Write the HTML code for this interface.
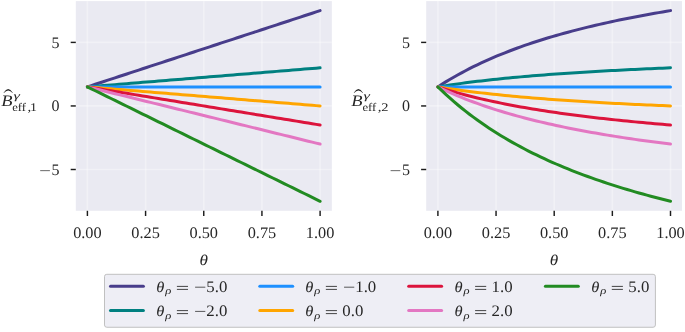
<!DOCTYPE html>
<html><head><meta charset="utf-8"><title>chart</title>
<style>
html,body{margin:0;padding:0;background:#fff;}
body{width:685px;height:332px;overflow:hidden;position:relative;font-family:"Liberation Serif",serif;}
svg text{font-family:"Liberation Serif",serif;fill:#262626;text-rendering:geometricPrecision;}
.t{font-size:16px;}
.i{font-size:16px;font-style:italic;}
</style></head><body>
<svg width="685" height="332" viewBox="0 0 685 332" style="position:absolute;left:0;top:0;will-change:transform">
<rect x="0" y="0" width="685" height="332" fill="#fff"/>
<rect x="75.8" y="1.1" width="256.05" height="209.70" fill="#eaeaf2"/>
<line x1="87.40" x2="87.40" y1="1.1" y2="210.8" stroke="#fff" stroke-width="1.7" stroke-opacity="0.32"/>
<line x1="87.40" x2="87.40" y1="210.8" y2="216.0" stroke="#1c1c1c" stroke-width="1.45"/>
<line x1="145.58" x2="145.58" y1="1.1" y2="210.8" stroke="#fff" stroke-width="1.7" stroke-opacity="0.32"/>
<line x1="145.58" x2="145.58" y1="210.8" y2="216.0" stroke="#1c1c1c" stroke-width="1.45"/>
<line x1="203.75" x2="203.75" y1="1.1" y2="210.8" stroke="#fff" stroke-width="1.7" stroke-opacity="0.32"/>
<line x1="203.75" x2="203.75" y1="210.8" y2="216.0" stroke="#1c1c1c" stroke-width="1.45"/>
<line x1="261.93" x2="261.93" y1="1.1" y2="210.8" stroke="#fff" stroke-width="1.7" stroke-opacity="0.32"/>
<line x1="261.93" x2="261.93" y1="210.8" y2="216.0" stroke="#1c1c1c" stroke-width="1.45"/>
<line x1="320.10" x2="320.10" y1="1.1" y2="210.8" stroke="#fff" stroke-width="1.7" stroke-opacity="0.32"/>
<line x1="320.10" x2="320.10" y1="210.8" y2="216.0" stroke="#1c1c1c" stroke-width="1.45"/>
<line x1="75.8" x2="331.85" y1="169.50" y2="169.50" stroke="#fff" stroke-width="1.7" stroke-opacity="0.32"/>
<line x1="70.7" x2="75.8" y1="169.50" y2="169.50" stroke="#1c1c1c" stroke-width="1.45"/>
<line x1="75.8" x2="331.85" y1="105.95" y2="105.95" stroke="#fff" stroke-width="1.7" stroke-opacity="0.32"/>
<line x1="70.7" x2="75.8" y1="105.95" y2="105.95" stroke="#1c1c1c" stroke-width="1.45"/>
<line x1="75.8" x2="331.85" y1="42.40" y2="42.40" stroke="#fff" stroke-width="1.7" stroke-opacity="0.32"/>
<line x1="70.7" x2="75.8" y1="42.40" y2="42.40" stroke="#1c1c1c" stroke-width="1.45"/>
<polyline points="87.40,86.89 91.34,85.59 95.29,84.30 99.23,83.01 103.18,81.71 107.12,80.42 111.06,79.13 115.01,77.84 118.95,76.54 122.90,75.25 126.84,73.96 130.78,72.67 134.73,71.37 138.67,70.08 142.62,68.79 146.56,67.50 150.51,66.20 154.45,64.91 158.39,63.62 162.34,62.33 166.28,61.03 170.23,59.74 174.17,58.45 178.11,57.16 182.06,55.86 186.00,54.57 189.95,53.28 193.89,51.99 197.83,50.69 201.78,49.40 205.72,48.11 209.67,46.82 213.61,45.52 217.55,44.23 221.50,42.94 225.44,41.65 229.39,40.35 233.33,39.06 237.27,37.77 241.22,36.48 245.16,35.18 249.11,33.89 253.05,32.60 256.99,31.31 260.94,30.01 264.88,28.72 268.83,27.43 272.77,26.14 276.72,24.84 280.66,23.55 284.60,22.26 288.55,20.97 292.49,19.67 296.44,18.38 300.38,17.09 304.32,15.80 308.27,14.50 312.21,13.21 316.16,11.92 320.10,10.62" fill="none" stroke="#483d8b" stroke-width="3.0" stroke-linecap="round" stroke-linejoin="round"/>
<polyline points="87.40,86.89 91.34,86.56 95.29,86.24 99.23,85.92 103.18,85.59 107.12,85.27 111.06,84.95 115.01,84.62 118.95,84.30 122.90,83.98 126.84,83.65 130.78,83.33 134.73,83.01 138.67,82.68 142.62,82.36 146.56,82.04 150.51,81.71 154.45,81.39 158.39,81.07 162.34,80.75 166.28,80.42 170.23,80.10 174.17,79.78 178.11,79.45 182.06,79.13 186.00,78.81 189.95,78.48 193.89,78.16 197.83,77.84 201.78,77.51 205.72,77.19 209.67,76.87 213.61,76.54 217.55,76.22 221.50,75.90 225.44,75.58 229.39,75.25 233.33,74.93 237.27,74.61 241.22,74.28 245.16,73.96 249.11,73.64 253.05,73.31 256.99,72.99 260.94,72.67 264.88,72.34 268.83,72.02 272.77,71.70 276.72,71.37 280.66,71.05 284.60,70.73 288.55,70.41 292.49,70.08 296.44,69.76 300.38,69.44 304.32,69.11 308.27,68.79 312.21,68.47 316.16,68.14 320.10,67.82" fill="none" stroke="#008080" stroke-width="3.0" stroke-linecap="round" stroke-linejoin="round"/>
<polyline points="87.40,86.89 91.34,86.89 95.29,86.89 99.23,86.89 103.18,86.89 107.12,86.89 111.06,86.89 115.01,86.89 118.95,86.89 122.90,86.89 126.84,86.89 130.78,86.89 134.73,86.89 138.67,86.89 142.62,86.89 146.56,86.89 150.51,86.88 154.45,86.89 158.39,86.89 162.34,86.89 166.28,86.89 170.23,86.89 174.17,86.89 178.11,86.89 182.06,86.89 186.00,86.89 189.95,86.89 193.89,86.89 197.83,86.89 201.78,86.89 205.72,86.89 209.67,86.89 213.61,86.89 217.55,86.89 221.50,86.89 225.44,86.89 229.39,86.89 233.33,86.89 237.27,86.89 241.22,86.89 245.16,86.89 249.11,86.89 253.05,86.89 256.99,86.89 260.94,86.89 264.88,86.89 268.83,86.89 272.77,86.89 276.72,86.89 280.66,86.89 284.60,86.89 288.55,86.89 292.49,86.89 296.44,86.89 300.38,86.89 304.32,86.89 308.27,86.89 312.21,86.89 316.16,86.89 320.10,86.89" fill="none" stroke="#1e90ff" stroke-width="3.0" stroke-linecap="round" stroke-linejoin="round"/>
<polyline points="87.40,86.89 91.34,87.21 95.29,87.53 99.23,87.85 103.18,88.18 107.12,88.50 111.06,88.82 115.01,89.15 118.95,89.47 122.90,89.79 126.84,90.12 130.78,90.44 134.73,90.76 138.67,91.09 142.62,91.41 146.56,91.73 150.51,92.06 154.45,92.38 158.39,92.70 162.34,93.02 166.28,93.35 170.23,93.67 174.17,93.99 178.11,94.32 182.06,94.64 186.00,94.96 189.95,95.29 193.89,95.61 197.83,95.93 201.78,96.26 205.72,96.58 209.67,96.90 213.61,97.23 217.55,97.55 221.50,97.87 225.44,98.19 229.39,98.52 233.33,98.84 237.27,99.16 241.22,99.49 245.16,99.81 249.11,100.13 253.05,100.46 256.99,100.78 260.94,101.10 264.88,101.43 268.83,101.75 272.77,102.07 276.72,102.40 280.66,102.72 284.60,103.04 288.55,103.36 292.49,103.69 296.44,104.01 300.38,104.33 304.32,104.66 308.27,104.98 312.21,105.30 316.16,105.63 320.10,105.95" fill="none" stroke="#ffa500" stroke-width="3.0" stroke-linecap="round" stroke-linejoin="round"/>
<polyline points="87.40,86.89 91.34,87.53 95.29,88.18 99.23,88.82 103.18,89.47 107.12,90.12 111.06,90.76 115.01,91.41 118.95,92.06 122.90,92.70 126.84,93.35 130.78,93.99 134.73,94.64 138.67,95.29 142.62,95.93 146.56,96.58 150.51,97.23 154.45,97.87 158.39,98.52 162.34,99.16 166.28,99.81 170.23,100.46 174.17,101.10 178.11,101.75 182.06,102.40 186.00,103.04 189.95,103.69 193.89,104.33 197.83,104.98 201.78,105.63 205.72,106.27 209.67,106.92 213.61,107.57 217.55,108.21 221.50,108.86 225.44,109.50 229.39,110.15 233.33,110.80 237.27,111.44 241.22,112.09 245.16,112.74 249.11,113.38 253.05,114.03 256.99,114.67 260.94,115.32 264.88,115.97 268.83,116.61 272.77,117.26 276.72,117.91 280.66,118.55 284.60,119.20 288.55,119.84 292.49,120.49 296.44,121.14 300.38,121.78 304.32,122.43 308.27,123.08 312.21,123.72 316.16,124.37 320.10,125.02" fill="none" stroke="#dc143c" stroke-width="3.0" stroke-linecap="round" stroke-linejoin="round"/>
<polyline points="87.40,86.89 91.34,87.85 95.29,88.82 99.23,89.79 103.18,90.76 107.12,91.73 111.06,92.70 115.01,93.67 118.95,94.64 122.90,95.61 126.84,96.58 130.78,97.55 134.73,98.52 138.67,99.49 142.62,100.46 146.56,101.43 150.51,102.40 154.45,103.36 158.39,104.33 162.34,105.30 166.28,106.27 170.23,107.24 174.17,108.21 178.11,109.18 182.06,110.15 186.00,111.12 189.95,112.09 193.89,113.06 197.83,114.03 201.78,115.00 205.72,115.97 209.67,116.94 213.61,117.91 217.55,118.88 221.50,119.84 225.44,120.81 229.39,121.78 233.33,122.75 237.27,123.72 241.22,124.69 245.16,125.66 249.11,126.63 253.05,127.60 256.99,128.57 260.94,129.54 264.88,130.51 268.83,131.48 272.77,132.45 276.72,133.42 280.66,134.39 284.60,135.36 288.55,136.32 292.49,137.29 296.44,138.26 300.38,139.23 304.32,140.20 308.27,141.17 312.21,142.14 316.16,143.11 320.10,144.08" fill="none" stroke="#e377c2" stroke-width="3.0" stroke-linecap="round" stroke-linejoin="round"/>
<polyline points="87.40,86.89 91.34,88.82 95.29,90.76 99.23,92.70 103.18,94.64 107.12,96.58 111.06,98.52 115.01,100.46 118.95,102.40 122.90,104.33 126.84,106.27 130.78,108.21 134.73,110.15 138.67,112.09 142.62,114.03 146.56,115.97 150.51,117.91 154.45,119.84 158.39,121.78 162.34,123.72 166.28,125.66 170.23,127.60 174.17,129.54 178.11,131.48 182.06,133.42 186.00,135.36 189.95,137.29 193.89,139.23 197.83,141.17 201.78,143.11 205.72,145.05 209.67,146.99 213.61,148.93 217.55,150.87 221.50,152.80 225.44,154.74 229.39,156.68 233.33,158.62 237.27,160.56 241.22,162.50 245.16,164.44 249.11,166.38 253.05,168.32 256.99,170.25 260.94,172.19 264.88,174.13 268.83,176.07 272.77,178.01 276.72,179.95 280.66,181.89 284.60,183.83 288.55,185.76 292.49,187.70 296.44,189.64 300.38,191.58 304.32,193.52 308.27,195.46 312.21,197.40 316.16,199.34 320.10,201.28" fill="none" stroke="#228b22" stroke-width="3.0" stroke-linecap="round" stroke-linejoin="round"/>
<text x="87.40" y="238.4" text-anchor="middle" class="t" textLength="28.5" lengthAdjust="spacingAndGlyphs">0.00</text>
<text x="145.58" y="238.4" text-anchor="middle" class="t" textLength="28.5" lengthAdjust="spacingAndGlyphs">0.25</text>
<text x="203.75" y="238.4" text-anchor="middle" class="t" textLength="28.5" lengthAdjust="spacingAndGlyphs">0.50</text>
<text x="261.93" y="238.4" text-anchor="middle" class="t" textLength="28.5" lengthAdjust="spacingAndGlyphs">0.75</text>
<text x="320.10" y="238.4" text-anchor="middle" class="t" textLength="28.5" lengthAdjust="spacingAndGlyphs">1.00</text>
<text x="59.50" y="47.75" text-anchor="end" class="t">5</text>
<text x="59.50" y="111.30" text-anchor="end" class="t">0</text>
<text x="59.50" y="174.85" text-anchor="end" class="t">5</text>
<line x1="40.20" x2="49.90" y1="170.65" y2="170.65" stroke="#262626" stroke-width="0.7"/>
<text transform="translate(199.59,264.55) scale(1.1534,1.0000)" style="font-size:14.9px;font-style:italic;" fill="#262626">θ</text>
<text transform="translate(1.13,105.65) scale(1.1538,1.0000)" style="font-size:16px;font-style:italic;" fill="#262626">B</text>
<path d="M3.60 92.75 Q8.20 85.3 12.80 92.75 L12.55 93.0 Q8.20 88.0 3.85 93.0 Z" fill="#262626"/>
<text transform="translate(13.40,98.65) scale(1.5409,1.0000)" style="font-size:10.6px;font-style:italic;" fill="#262626">γ</text>
<text transform="translate(12.20,110.75) scale(1.0949,1.0000)" style="font-size:11.6px;" fill="#262626">eff</text>
<text transform="translate(27.54,110.75) scale(1.2735,1.0000)" style="font-size:11.6px;" fill="#262626">,</text>
<text transform="translate(29.98,110.75) scale(1.1999,1.0000)" style="font-size:11.6px;" fill="#262626">1</text>
<rect x="426.2" y="1.1" width="255.80" height="209.70" fill="#eaeaf2"/>
<line x1="437.90" x2="437.90" y1="1.1" y2="210.8" stroke="#fff" stroke-width="1.7" stroke-opacity="0.32"/>
<line x1="437.90" x2="437.90" y1="210.8" y2="216.0" stroke="#1c1c1c" stroke-width="1.45"/>
<line x1="496.05" x2="496.05" y1="1.1" y2="210.8" stroke="#fff" stroke-width="1.7" stroke-opacity="0.32"/>
<line x1="496.05" x2="496.05" y1="210.8" y2="216.0" stroke="#1c1c1c" stroke-width="1.45"/>
<line x1="554.20" x2="554.20" y1="1.1" y2="210.8" stroke="#fff" stroke-width="1.7" stroke-opacity="0.32"/>
<line x1="554.20" x2="554.20" y1="210.8" y2="216.0" stroke="#1c1c1c" stroke-width="1.45"/>
<line x1="612.35" x2="612.35" y1="1.1" y2="210.8" stroke="#fff" stroke-width="1.7" stroke-opacity="0.32"/>
<line x1="612.35" x2="612.35" y1="210.8" y2="216.0" stroke="#1c1c1c" stroke-width="1.45"/>
<line x1="670.50" x2="670.50" y1="1.1" y2="210.8" stroke="#fff" stroke-width="1.7" stroke-opacity="0.32"/>
<line x1="670.50" x2="670.50" y1="210.8" y2="216.0" stroke="#1c1c1c" stroke-width="1.45"/>
<line x1="426.2" x2="682.0" y1="169.50" y2="169.50" stroke="#fff" stroke-width="1.7" stroke-opacity="0.32"/>
<line x1="421.09999999999997" x2="426.2" y1="169.50" y2="169.50" stroke="#1c1c1c" stroke-width="1.45"/>
<line x1="426.2" x2="682.0" y1="105.95" y2="105.95" stroke="#fff" stroke-width="1.7" stroke-opacity="0.32"/>
<line x1="421.09999999999997" x2="426.2" y1="105.95" y2="105.95" stroke="#1c1c1c" stroke-width="1.45"/>
<line x1="426.2" x2="682.0" y1="42.40" y2="42.40" stroke="#fff" stroke-width="1.7" stroke-opacity="0.32"/>
<line x1="421.09999999999997" x2="426.2" y1="42.40" y2="42.40" stroke="#1c1c1c" stroke-width="1.45"/>
<polyline points="437.90,86.89 441.84,84.34 445.78,81.88 449.73,79.50 453.67,77.20 457.61,74.97 461.55,72.81 465.50,70.71 469.44,68.67 473.38,66.70 477.32,64.78 481.27,62.92 485.21,61.11 489.15,59.35 493.09,57.63 497.04,55.97 500.98,54.35 504.92,52.77 508.86,51.23 512.81,49.73 516.75,48.27 520.69,46.85 524.63,45.46 528.57,44.10 532.52,42.78 536.46,41.49 540.40,40.23 544.34,39.00 548.29,37.80 552.23,36.62 556.17,35.47 560.11,34.35 564.06,33.25 568.00,32.18 571.94,31.12 575.88,30.10 579.83,29.09 583.77,28.10 587.71,27.13 591.65,26.19 595.59,25.26 599.54,24.35 603.48,23.46 607.42,22.59 611.36,21.73 615.31,20.89 619.25,20.07 623.19,19.26 627.13,18.46 631.08,17.69 635.02,16.92 638.96,16.17 642.90,15.43 646.85,14.71 650.79,14.00 654.73,13.30 658.67,12.61 662.62,11.94 666.56,11.28 670.50,10.62" fill="none" stroke="#483d8b" stroke-width="3.0" stroke-linecap="round" stroke-linejoin="round"/>
<polyline points="437.90,86.89 441.84,86.25 445.78,85.63 449.73,85.04 453.67,84.46 457.61,83.91 461.55,83.37 465.50,82.84 469.44,82.33 473.38,81.84 477.32,81.36 481.27,80.89 485.21,80.44 489.15,80.00 493.09,79.57 497.04,79.16 500.98,78.75 504.92,78.36 508.86,77.97 512.81,77.60 516.75,77.23 520.69,76.88 524.63,76.53 528.57,76.19 532.52,75.86 536.46,75.54 540.40,75.22 544.34,74.91 548.29,74.61 552.23,74.32 556.17,74.03 560.11,73.75 564.06,73.48 568.00,73.21 571.94,72.94 575.88,72.69 579.83,72.44 583.77,72.19 587.71,71.95 591.65,71.71 595.59,71.48 599.54,71.25 603.48,71.03 607.42,70.81 611.36,70.60 615.31,70.39 619.25,70.18 623.19,69.98 627.13,69.78 631.08,69.59 635.02,69.39 638.96,69.21 642.90,69.02 646.85,68.84 650.79,68.66 654.73,68.49 658.67,68.32 662.62,68.15 666.56,67.98 670.50,67.82" fill="none" stroke="#008080" stroke-width="3.0" stroke-linecap="round" stroke-linejoin="round"/>
<polyline points="437.90,86.89 441.84,86.88 445.78,86.89 449.73,86.89 453.67,86.89 457.61,86.89 461.55,86.89 465.50,86.89 469.44,86.89 473.38,86.89 477.32,86.89 481.27,86.88 485.21,86.88 489.15,86.89 493.09,86.89 497.04,86.89 500.98,86.88 504.92,86.89 508.86,86.89 512.81,86.89 516.75,86.89 520.69,86.89 524.63,86.88 528.57,86.89 532.52,86.89 536.46,86.89 540.40,86.89 544.34,86.89 548.29,86.89 552.23,86.88 556.17,86.89 560.11,86.88 564.06,86.88 568.00,86.88 571.94,86.89 575.88,86.89 579.83,86.89 583.77,86.89 587.71,86.89 591.65,86.89 595.59,86.89 599.54,86.88 603.48,86.88 607.42,86.88 611.36,86.89 615.31,86.89 619.25,86.89 623.19,86.89 627.13,86.88 631.08,86.89 635.02,86.88 638.96,86.88 642.90,86.88 646.85,86.89 650.79,86.89 654.73,86.89 658.67,86.89 662.62,86.89 666.56,86.89 670.50,86.89" fill="none" stroke="#1e90ff" stroke-width="3.0" stroke-linecap="round" stroke-linejoin="round"/>
<polyline points="437.90,86.89 441.84,87.52 445.78,88.14 449.73,88.73 453.67,89.31 457.61,89.86 461.55,90.40 465.50,90.93 469.44,91.44 473.38,91.93 477.32,92.41 481.27,92.88 485.21,93.33 489.15,93.77 493.09,94.20 497.04,94.61 500.98,95.02 504.92,95.41 508.86,95.80 512.81,96.17 516.75,96.54 520.69,96.89 524.63,97.24 528.57,97.58 532.52,97.91 536.46,98.23 540.40,98.55 544.34,98.86 548.29,99.16 552.23,99.45 556.17,99.74 560.11,100.02 564.06,100.29 568.00,100.56 571.94,100.83 575.88,101.08 579.83,101.33 583.77,101.58 587.71,101.82 591.65,102.06 595.59,102.29 599.54,102.52 603.48,102.74 607.42,102.96 611.36,103.17 615.31,103.38 619.25,103.59 623.19,103.79 627.13,103.99 631.08,104.18 635.02,104.38 638.96,104.56 642.90,104.75 646.85,104.93 650.79,105.11 654.73,105.28 658.67,105.45 662.62,105.62 666.56,105.79 670.50,105.95" fill="none" stroke="#ffa500" stroke-width="3.0" stroke-linecap="round" stroke-linejoin="round"/>
<polyline points="437.90,86.89 441.84,88.16 445.78,89.39 449.73,90.58 453.67,91.73 457.61,92.84 461.55,93.92 465.50,94.97 469.44,95.99 473.38,96.98 477.32,97.94 481.27,98.87 485.21,99.77 489.15,100.65 493.09,101.51 497.04,102.34 500.98,103.15 504.92,103.94 508.86,104.71 512.81,105.46 516.75,106.19 520.69,106.90 524.63,107.60 528.57,108.28 532.52,108.94 536.46,109.58 540.40,110.21 544.34,110.83 548.29,111.43 552.23,112.02 556.17,112.59 560.11,113.15 564.06,113.70 568.00,114.24 571.94,114.77 575.88,115.28 579.83,115.78 583.77,116.28 587.71,116.76 591.65,117.23 595.59,117.70 599.54,118.15 603.48,118.60 607.42,119.03 611.36,119.46 615.31,119.88 619.25,120.29 623.19,120.70 627.13,121.10 631.08,121.48 635.02,121.87 638.96,122.24 642.90,122.61 646.85,122.97 650.79,123.33 654.73,123.68 658.67,124.02 662.62,124.36 666.56,124.69 670.50,125.02" fill="none" stroke="#dc143c" stroke-width="3.0" stroke-linecap="round" stroke-linejoin="round"/>
<polyline points="437.90,86.89 441.84,88.79 445.78,90.64 449.73,92.42 453.67,94.15 457.61,95.82 461.55,97.44 465.50,99.02 469.44,100.54 473.38,102.02 477.32,103.46 481.27,104.86 485.21,106.22 489.15,107.54 493.09,108.82 497.04,110.07 500.98,111.29 504.92,112.47 508.86,113.63 512.81,114.75 516.75,115.84 520.69,116.91 524.63,117.95 528.57,118.97 532.52,119.96 536.46,120.93 540.40,121.87 544.34,122.80 548.29,123.70 552.23,124.58 556.17,125.44 560.11,126.29 564.06,127.11 568.00,127.92 571.94,128.71 575.88,129.48 579.83,130.23 583.77,130.97 587.71,131.70 591.65,132.41 595.59,133.10 599.54,133.78 603.48,134.45 607.42,135.11 611.36,135.75 615.31,136.38 619.25,137.00 623.19,137.61 627.13,138.20 631.08,138.78 635.02,139.36 638.96,139.92 642.90,140.47 646.85,141.02 650.79,141.55 654.73,142.07 658.67,142.59 662.62,143.09 666.56,143.59 670.50,144.08" fill="none" stroke="#e377c2" stroke-width="3.0" stroke-linecap="round" stroke-linejoin="round"/>
<polyline points="437.90,86.89 441.84,90.70 445.78,94.39 449.73,97.95 453.67,101.41 457.61,104.76 461.55,108.00 465.50,111.15 469.44,114.20 473.38,117.16 477.32,120.04 481.27,122.84 485.21,125.55 489.15,128.19 493.09,130.76 497.04,133.26 500.98,135.69 504.92,138.06 508.86,140.37 512.81,142.61 516.75,144.80 520.69,146.94 524.63,149.02 528.57,151.06 532.52,153.04 536.46,154.97 540.40,156.86 544.34,158.71 548.29,160.52 552.23,162.28 556.17,164.00 560.11,165.69 564.06,167.34 568.00,168.95 571.94,170.53 575.88,172.07 579.83,173.58 583.77,175.06 587.71,176.51 591.65,177.93 595.59,179.32 599.54,180.68 603.48,182.02 607.42,183.33 611.36,184.62 615.31,185.88 619.25,187.11 623.19,188.33 627.13,189.52 631.08,190.68 635.02,191.83 638.96,192.96 642.90,194.06 646.85,195.15 650.79,196.21 654.73,197.26 658.67,198.29 662.62,199.30 666.56,200.30 670.50,201.28" fill="none" stroke="#228b22" stroke-width="3.0" stroke-linecap="round" stroke-linejoin="round"/>
<text x="437.90" y="238.4" text-anchor="middle" class="t" textLength="28.5" lengthAdjust="spacingAndGlyphs">0.00</text>
<text x="496.05" y="238.4" text-anchor="middle" class="t" textLength="28.5" lengthAdjust="spacingAndGlyphs">0.25</text>
<text x="554.20" y="238.4" text-anchor="middle" class="t" textLength="28.5" lengthAdjust="spacingAndGlyphs">0.50</text>
<text x="612.35" y="238.4" text-anchor="middle" class="t" textLength="28.5" lengthAdjust="spacingAndGlyphs">0.75</text>
<text x="670.50" y="238.4" text-anchor="middle" class="t" textLength="28.5" lengthAdjust="spacingAndGlyphs">1.00</text>
<text x="409.90" y="47.75" text-anchor="end" class="t">5</text>
<text x="409.90" y="111.30" text-anchor="end" class="t">0</text>
<text x="409.90" y="174.85" text-anchor="end" class="t">5</text>
<line x1="390.60" x2="400.30" y1="170.65" y2="170.65" stroke="#262626" stroke-width="0.7"/>
<text transform="translate(549.86,264.55) scale(1.1534,1.0000)" style="font-size:14.9px;font-style:italic;" fill="#262626">θ</text>
<text transform="translate(351.33,105.65) scale(1.1538,1.0000)" style="font-size:16px;font-style:italic;" fill="#262626">B</text>
<path d="M353.80 92.75 Q358.40 85.3 363.00 92.75 L362.75 93.0 Q358.40 88.0 354.05 93.0 Z" fill="#262626"/>
<text transform="translate(363.60,98.65) scale(1.5409,1.0000)" style="font-size:10.6px;font-style:italic;" fill="#262626">γ</text>
<text transform="translate(362.40,110.75) scale(1.0949,1.0000)" style="font-size:11.6px;" fill="#262626">eff</text>
<text transform="translate(377.74,110.75) scale(1.2735,1.0000)" style="font-size:11.6px;" fill="#262626">,</text>
<text transform="translate(381.16,110.75) scale(1.2473,1.0000)" style="font-size:11.6px;" fill="#262626">2</text>
<rect x="104.5" y="274.3" width="550.9" height="52.95" rx="2.3" ry="2.3" fill="#eeeef5" stroke="#c0c0c0" stroke-width="1.0"/>
<line x1="110.50" x2="143.40" y1="286.3" y2="286.3" stroke="#483d8b" stroke-width="3.0" stroke-linecap="round"/>
<text transform="translate(156.30,292.05) scale(1.1054,1.0000)" style="font-size:14.9px;font-style:italic;" fill="#262626">θ</text>
<text transform="translate(165.32,294.35) scale(1.1914,1.0000)" style="font-size:10.6px;font-style:italic;" fill="#262626">ρ</text>
<line x1="176.90" x2="188.00" y1="286.40" y2="286.40" stroke="#262626" stroke-width="0.85"/>
<line x1="176.90" x2="188.00" y1="289.40" y2="289.40" stroke="#262626" stroke-width="0.85"/>
<line x1="195.10" x2="205.30" y1="287.20" y2="287.20" stroke="#262626" stroke-width="0.75"/>
<text x="206.30" y="292.20" class="t" textLength="21.0" lengthAdjust="spacingAndGlyphs">5.0</text>
<line x1="110.50" x2="143.40" y1="310.5" y2="310.5" stroke="#008080" stroke-width="3.0" stroke-linecap="round"/>
<text transform="translate(156.30,316.25) scale(1.1054,1.0000)" style="font-size:14.9px;font-style:italic;" fill="#262626">θ</text>
<text transform="translate(165.32,318.55) scale(1.1914,1.0000)" style="font-size:10.6px;font-style:italic;" fill="#262626">ρ</text>
<line x1="176.90" x2="188.00" y1="310.60" y2="310.60" stroke="#262626" stroke-width="0.85"/>
<line x1="176.90" x2="188.00" y1="313.60" y2="313.60" stroke="#262626" stroke-width="0.85"/>
<line x1="195.10" x2="205.30" y1="311.40" y2="311.40" stroke="#262626" stroke-width="0.75"/>
<text x="206.30" y="316.40" class="t" textLength="21.0" lengthAdjust="spacingAndGlyphs">2.0</text>
<line x1="259.80" x2="292.70" y1="286.3" y2="286.3" stroke="#1e90ff" stroke-width="3.0" stroke-linecap="round"/>
<text transform="translate(305.25,292.05) scale(1.1054,1.0000)" style="font-size:14.9px;font-style:italic;" fill="#262626">θ</text>
<text transform="translate(314.27,294.35) scale(1.1914,1.0000)" style="font-size:10.6px;font-style:italic;" fill="#262626">ρ</text>
<line x1="325.85" x2="336.95" y1="286.40" y2="286.40" stroke="#262626" stroke-width="0.85"/>
<line x1="325.85" x2="336.95" y1="289.40" y2="289.40" stroke="#262626" stroke-width="0.85"/>
<line x1="344.05" x2="354.25" y1="287.20" y2="287.20" stroke="#262626" stroke-width="0.75"/>
<text x="355.25" y="292.20" class="t" textLength="21.0" lengthAdjust="spacingAndGlyphs">1.0</text>
<line x1="259.80" x2="292.70" y1="310.5" y2="310.5" stroke="#ffa500" stroke-width="3.0" stroke-linecap="round"/>
<text transform="translate(305.25,316.25) scale(1.1054,1.0000)" style="font-size:14.9px;font-style:italic;" fill="#262626">θ</text>
<text transform="translate(314.27,318.55) scale(1.1914,1.0000)" style="font-size:10.6px;font-style:italic;" fill="#262626">ρ</text>
<line x1="325.85" x2="336.95" y1="310.60" y2="310.60" stroke="#262626" stroke-width="0.85"/>
<line x1="325.85" x2="336.95" y1="313.60" y2="313.60" stroke="#262626" stroke-width="0.85"/>
<text x="342.35" y="316.40" class="t" textLength="21.0" lengthAdjust="spacingAndGlyphs">0.0</text>
<line x1="408.70" x2="441.60" y1="286.3" y2="286.3" stroke="#dc143c" stroke-width="3.0" stroke-linecap="round"/>
<text transform="translate(454.50,292.05) scale(1.1054,1.0000)" style="font-size:14.9px;font-style:italic;" fill="#262626">θ</text>
<text transform="translate(463.52,294.35) scale(1.1914,1.0000)" style="font-size:10.6px;font-style:italic;" fill="#262626">ρ</text>
<line x1="475.10" x2="486.20" y1="286.40" y2="286.40" stroke="#262626" stroke-width="0.85"/>
<line x1="475.10" x2="486.20" y1="289.40" y2="289.40" stroke="#262626" stroke-width="0.85"/>
<text x="491.60" y="292.20" class="t" textLength="21.0" lengthAdjust="spacingAndGlyphs">1.0</text>
<line x1="408.70" x2="441.60" y1="310.5" y2="310.5" stroke="#e377c2" stroke-width="3.0" stroke-linecap="round"/>
<text transform="translate(454.50,316.25) scale(1.1054,1.0000)" style="font-size:14.9px;font-style:italic;" fill="#262626">θ</text>
<text transform="translate(463.52,318.55) scale(1.1914,1.0000)" style="font-size:10.6px;font-style:italic;" fill="#262626">ρ</text>
<line x1="475.10" x2="486.20" y1="310.60" y2="310.60" stroke="#262626" stroke-width="0.85"/>
<line x1="475.10" x2="486.20" y1="313.60" y2="313.60" stroke="#262626" stroke-width="0.85"/>
<text x="491.60" y="316.40" class="t" textLength="21.0" lengthAdjust="spacingAndGlyphs">2.0</text>
<line x1="545.40" x2="578.30" y1="286.3" y2="286.3" stroke="#228b22" stroke-width="3.0" stroke-linecap="round"/>
<text transform="translate(591.20,292.05) scale(1.1054,1.0000)" style="font-size:14.9px;font-style:italic;" fill="#262626">θ</text>
<text transform="translate(600.22,294.35) scale(1.1914,1.0000)" style="font-size:10.6px;font-style:italic;" fill="#262626">ρ</text>
<line x1="611.80" x2="622.90" y1="286.40" y2="286.40" stroke="#262626" stroke-width="0.85"/>
<line x1="611.80" x2="622.90" y1="289.40" y2="289.40" stroke="#262626" stroke-width="0.85"/>
<text x="628.30" y="292.20" class="t" textLength="21.0" lengthAdjust="spacingAndGlyphs">5.0</text>
</svg>
</body></html>
